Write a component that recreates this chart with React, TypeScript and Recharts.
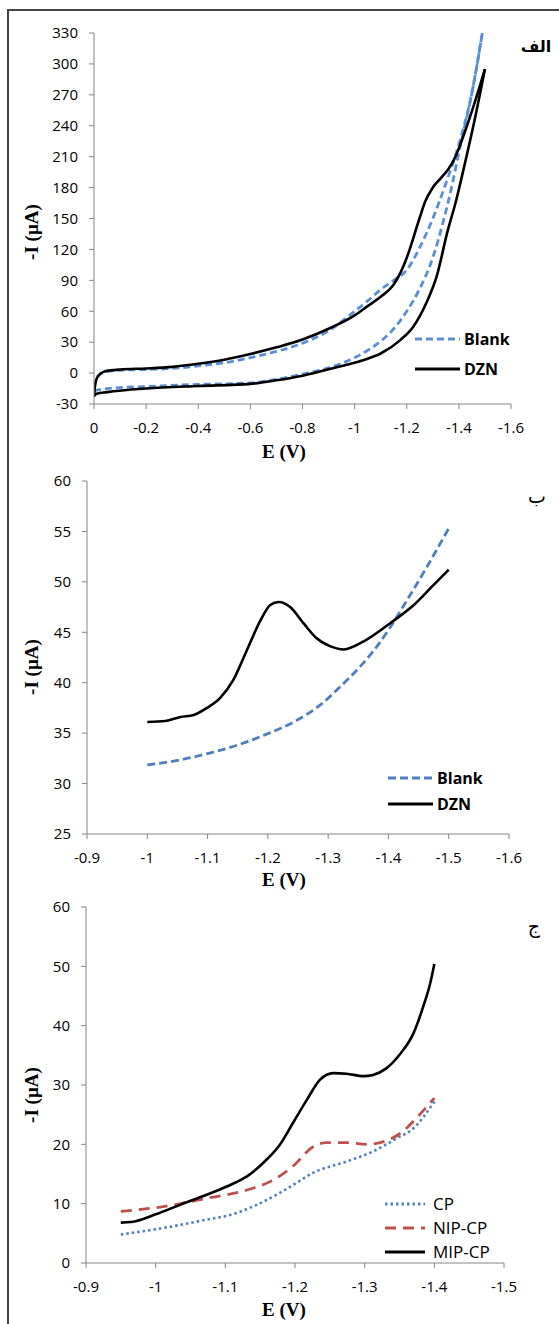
import React from 'react';
import { LineChart, Line, XAxis, YAxis, Legend, Label } from 'recharts';

type Pt = [number, number]; // [E (V), -I (µA)]

// ---- panel الف : cyclic voltammograms, each loop split in its upper and lower branch
const blankUpper: Pt[] = [
  [0, -14], [-0.01, -5], [-0.03, 0], [-0.08, 2.5], [-0.2, 3.5], [-0.3, 4.5], [-0.4, 7],
  [-0.5, 10], [-0.6, 15], [-0.7, 21], [-0.8, 29], [-0.9, 41], [-1.0, 60], [-1.05, 70],
  [-1.1, 81], [-1.15, 90], [-1.2, 100], [-1.25, 122], [-1.3, 150], [-1.35, 184],
  [-1.4, 222], [-1.45, 272], [-1.49, 330],
];
const blankLower: Pt[] = [
  [0, -17], [-0.05, -15], [-0.2, -13], [-0.4, -11], [-0.6, -9.5], [-0.7, -6], [-0.8, -1],
  [-0.9, 5], [-1.0, 15], [-1.05, 22], [-1.1, 31], [-1.15, 43], [-1.2, 60], [-1.25, 82],
  [-1.3, 112], [-1.34, 147], [-1.37, 178], [-1.4, 214], [-1.45, 272], [-1.49, 330],
];
const dznUpper: Pt[] = [
  [0, -23], [-0.004, -12], [-0.015, -3], [-0.04, 1.5], [-0.1, 3.5], [-0.2, 4.5], [-0.3, 6],
  [-0.4, 9], [-0.5, 13], [-0.6, 18.5], [-0.7, 25], [-0.8, 32.5], [-0.9, 43], [-1.0, 56],
  [-1.05, 65], [-1.1, 74], [-1.15, 86], [-1.175, 97], [-1.2, 112], [-1.25, 151],
  [-1.27, 166], [-1.3, 180], [-1.33, 189], [-1.36, 198], [-1.385, 209], [-1.42, 232],
  [-1.46, 262], [-1.5, 295],
];
const dznLower: Pt[] = [
  [0, -22], [-0.01, -20], [-0.05, -18.5], [-0.2, -15], [-0.4, -12.5], [-0.6, -10.5],
  [-0.7, -7], [-0.8, -2.5], [-0.92, 5], [-1.05, 14], [-1.1, 19], [-1.175, 32], [-1.225, 45],
  [-1.275, 68], [-1.315, 94], [-1.355, 136], [-1.39, 168], [-1.42, 200], [-1.46, 245],
  [-1.5, 295],
];
const xTicksA = [0, -0.2, -0.4, -0.6, -0.8, -1, -1.2, -1.4, -1.6];
const yTicksA = [-30, 0, 30, 60, 90, 120, 150, 180, 210, 240, 270, 300, 330];

// ---- panel ب
const blankB: Pt[] = [
  [-1.0, 31.85], [-1.055, 32.35], [-1.102, 33.0], [-1.149, 33.8], [-1.202, 35.0],
  [-1.249, 36.3], [-1.287, 37.8], [-1.32, 39.6], [-1.353, 41.6], [-1.381, 43.6],
  [-1.403, 45.5], [-1.431, 48.2], [-1.464, 51.5], [-1.5, 55.3],
];
const dznB: Pt[] = [
  [-1.0, 36.1], [-1.03, 36.2], [-1.055, 36.6], [-1.077, 36.8], [-1.099, 37.5],
  [-1.121, 38.5], [-1.143, 40.3], [-1.165, 43.2], [-1.188, 46.2], [-1.204, 47.7],
  [-1.218, 48.0], [-1.237, 47.5], [-1.259, 45.9], [-1.281, 44.4], [-1.304, 43.6],
  [-1.326, 43.3], [-1.359, 44.1], [-1.403, 45.9], [-1.442, 47.7], [-1.475, 49.7], [-1.5, 51.2],
];
const xTicksB = [-0.9, -1, -1.1, -1.2, -1.3, -1.4, -1.5, -1.6];
const yTicksB = [25, 30, 35, 40, 45, 50, 55, 60];

// ---- panel ج
const cpC: Pt[] = [
  [-0.95, 4.8], [-1.011, 5.9], [-1.073, 7.3], [-1.107, 8.1], [-1.145, 9.8], [-1.178, 11.8],
  [-1.202, 13.5], [-1.226, 15.2], [-1.274, 17.1], [-1.312, 18.8], [-1.346, 21.0],
  [-1.37, 22.7], [-1.4, 27.2],
];
const nipC: Pt[] = [
  [-0.95, 8.7], [-1.011, 9.5], [-1.073, 10.9], [-1.131, 12.3], [-1.169, 14.0],
  [-1.197, 16.3], [-1.226, 19.6], [-1.245, 20.3], [-1.274, 20.3], [-1.303, 20.0],
  [-1.331, 20.6], [-1.355, 22.2], [-1.374, 24.4], [-1.4, 27.8],
];
const mipC: Pt[] = [
  [-0.95, 6.8], [-0.965, 6.9], [-1.0, 8.2], [-1.035, 9.8], [-1.073, 11.5], [-1.102, 12.9],
  [-1.131, 14.6], [-1.159, 17.4], [-1.178, 19.9], [-1.197, 23.6], [-1.217, 27.5],
  [-1.236, 30.9], [-1.255, 32.0], [-1.274, 31.9], [-1.298, 31.5], [-1.312, 31.7],
  [-1.331, 32.8], [-1.35, 35.1], [-1.37, 38.7], [-1.384, 43.2], [-1.394, 47.1], [-1.4, 50.4],
];
const xTicksC = [-0.9, -1, -1.1, -1.2, -1.3, -1.4, -1.5];
const yTicksC = [0, 10, 20, 30, 40, 50, 60];

const SANS = '"Open Sans", "Noto Sans", sans-serif';
const SERIF = '"Liberation Serif", "DejaVu Serif", serif';
const AXIS = '#868686';
const W = 559;

const toRows = (pts: Pt[]) => pts.map(([e, i]) => ({ e, i }));

type Series = {
  id: string;
  name: string;
  data: Pt[];
  color: string;
  width: number;
  dash?: string;
  legend?: boolean;
};

type PanelProps = {
  top: number;
  height: number;
  mTop: number;
  mRight: number;
  yW: number;
  xH: number;
  xDomain: [number, number];
  xTicks: number[];
  yDomain: [number, number];
  yTicks: number[];
  series: Series[];
  xTitleY: number;
  yTitleY: number;
  legend: { left: number; top: number; rowH: number; lineW: number; gap: number; bold: boolean; size: number };
};

const LegendList = ({ payload, cfg, series }: any) => {
  // keep the order of the series, recharts sorts the payload by name
  const order = (name: string) => series.findIndex((x: Series) => x.name === name);
  const rows = (payload || [])
    .filter((p: any) => p.type !== 'none')
    .slice()
    .sort((a: any, b: any) => order(a.value) - order(b.value));
  return (
    <div>
      {rows.map((entry: any) => {
        const s = series.find((x: Series) => x.name === entry.value);
        return (
          <div key={entry.value} style={{ display: 'flex', alignItems: 'center', height: cfg.rowH }}>
            <svg width={cfg.lineW} height={8} style={{ display: 'block' }}>
              <line x1={0} x2={cfg.lineW} y1={4} y2={4} stroke={entry.color}
                strokeWidth={s ? s.width + 0.3 : 3} strokeDasharray={s?.dash} />
            </svg>
            <span style={{ marginLeft: cfg.gap, fontFamily: SANS, fontSize: cfg.size,
              fontWeight: cfg.bold ? 700 : 400, color: '#000', lineHeight: `${cfg.rowH}px` }}>
              {entry.value}
            </span>
          </div>
        );
      })}
    </div>
  );
};

function Panel(p: PanelProps) {
  const tick = { fontSize: 15, fill: '#000', fontFamily: SANS };
  const lg = p.legend;
  return (
    <div style={{ position: 'absolute', left: 0, top: p.top, width: W, height: p.height }}>
      <LineChart width={W} height={p.height} margin={{ top: p.mTop, right: p.mRight, bottom: 0, left: 0 }}>
        <XAxis type="number" dataKey="e" domain={p.xDomain} ticks={p.xTicks} reversed interval={0}
          height={p.xH} tickSize={5} tickMargin={13} axisLine={{ stroke: AXIS }} tickLine={{ stroke: AXIS }}
          tick={tick} allowDataOverflow>
          <Label value="E (V)" content={() => (
            <text x={284} y={p.xTitleY} textAnchor="middle" fontFamily={SERIF} fontWeight={700}
              fontSize={19} fill="#000">E (V)</text>
          )} />
        </XAxis>
        <YAxis type="number" domain={p.yDomain} ticks={p.yTicks} interval={0} width={p.yW}
          tickSize={5} tickMargin={11} axisLine={{ stroke: AXIS }} tickLine={{ stroke: AXIS }}
          tick={tick} allowDataOverflow>
          <Label value="-I (µA)" content={() => (
            <text x={31} y={p.yTitleY} transform={`rotate(-90, 31, ${p.yTitleY})`} textAnchor="middle"
              dominantBaseline="central" fontFamily={SERIF} fontWeight={700} fontSize={19} fill="#000">
              -I (µA)
            </text>
          )} />
        </YAxis>
        <Legend layout="vertical" align="center" verticalAlign="middle"
          wrapperStyle={{ position: 'absolute', left: lg.left, top: lg.top, width: 170, height: 'auto' }}
          content={(props: any) => <LegendList {...props} cfg={lg} series={p.series} />} />
        {p.series.map((s) => (
          <Line key={s.id} type="monotone" data={toRows(s.data)} dataKey="i" name={s.name}
            stroke={s.color} strokeWidth={s.width} strokeDasharray={s.dash} dot={false}
            activeDot={false} legendType={s.legend === false ? 'none' : 'line'}
            isAnimationActive={false} />
        ))}
      </LineChart>
    </div>
  );
}

// panel letters, centred on the given point
const PanelTag = ({ cx, cy, text, size, bold }: { cx: number; cy: number; text: string; size: number; bold?: boolean }) => (
  <div dir="rtl" style={{
    position: 'absolute', left: cx - 30, top: cy - size * 0.6, width: 60, textAlign: 'center',
    fontFamily: '"DejaVu Sans", sans-serif', fontWeight: bold ? 700 : 400, fontSize: size,
    color: '#000', lineHeight: 1.2, whiteSpace: 'nowrap',
  }}>{text}</div>
);

export default function App() {
  return (
    <div style={{ position: 'absolute', left: 0, top: 0, width: W, height: 1324, overflow: 'hidden', background: '#fff' }}>
      <div style={{ position: 'absolute', left: 7, top: 9, width: 600, height: 1400,
        borderLeft: '2px solid #444', borderTop: '2px solid #444' }} />

      <Panel top={0} height={465} mTop={33} mRight={48} yW={94} xH={61}
        xDomain={[-1.6, 0]} xTicks={xTicksA} yDomain={[-30, 330]} yTicks={yTicksA}
        xTitleY={458} yTitleY={232}
        legend={{ left: 415, top: 324, rowH: 30, lineW: 45, gap: 4, bold: true, size: 16 }}
        series={[
          { id: 'bu', name: 'Blank', data: blankUpper, color: '#5B8FD5', width: 2.8, dash: '7 4' },
          { id: 'bl', name: 'Blank ', data: blankLower, color: '#5B8FD5', width: 2.8, dash: '7 4', legend: false },
          { id: 'du', name: 'DZN', data: dznUpper, color: '#000', width: 2.6 },
          { id: 'dl', name: 'DZN ', data: dznLower, color: '#000', width: 2.6, legend: false },
        ]} />

      <Panel top={440} height={450} mTop={41} mRight={50} yW={87} xH={56}
        xDomain={[-1.6, -0.9]} xTicks={xTicksB} yDomain={[25, 60]} yTicks={yTicksB}
        xTitleY={446} yTitleY={227}
        legend={{ left: 388, top: 325, rowH: 26, lineW: 45, gap: 4, bold: true, size: 16 }}
        series={[
          { id: 'b', name: 'Blank', data: blankB, color: '#4F7FBF', width: 2.8, dash: '8 4' },
          { id: 'd', name: 'DZN', data: dznB, color: '#000', width: 2.6 },
        ]} />

      <Panel top={890} height={434} mTop={17} mRight={55} yW={86} xH={61}
        xDomain={[-1.5, -0.9]} xTicks={xTicksC} yDomain={[0, 60]} yTicks={yTicksC}
        xTitleY={426} yTitleY={205}
        legend={{ left: 385, top: 302, rowH: 24, lineW: 40, gap: 8, bold: false, size: 17 }}
        series={[
          { id: 'cp', name: 'CP', data: cpC, color: '#4F81BD', width: 2.6, dash: '2.5 3' },
          { id: 'nip', name: 'NIP-CP', data: nipC, color: '#C0504D', width: 2.8, dash: '11 7' },
          { id: 'mip', name: 'MIP-CP', data: mipC, color: '#000', width: 2.6 },
        ]} />

      <PanelTag cx={536} cy={47} text="الف" size={16} bold />
      <PanelTag cx={537} cy={496} text="ب" size={19} />
      <PanelTag cx={534} cy={926} text="ج" size={19} />
    </div>
  );
}
